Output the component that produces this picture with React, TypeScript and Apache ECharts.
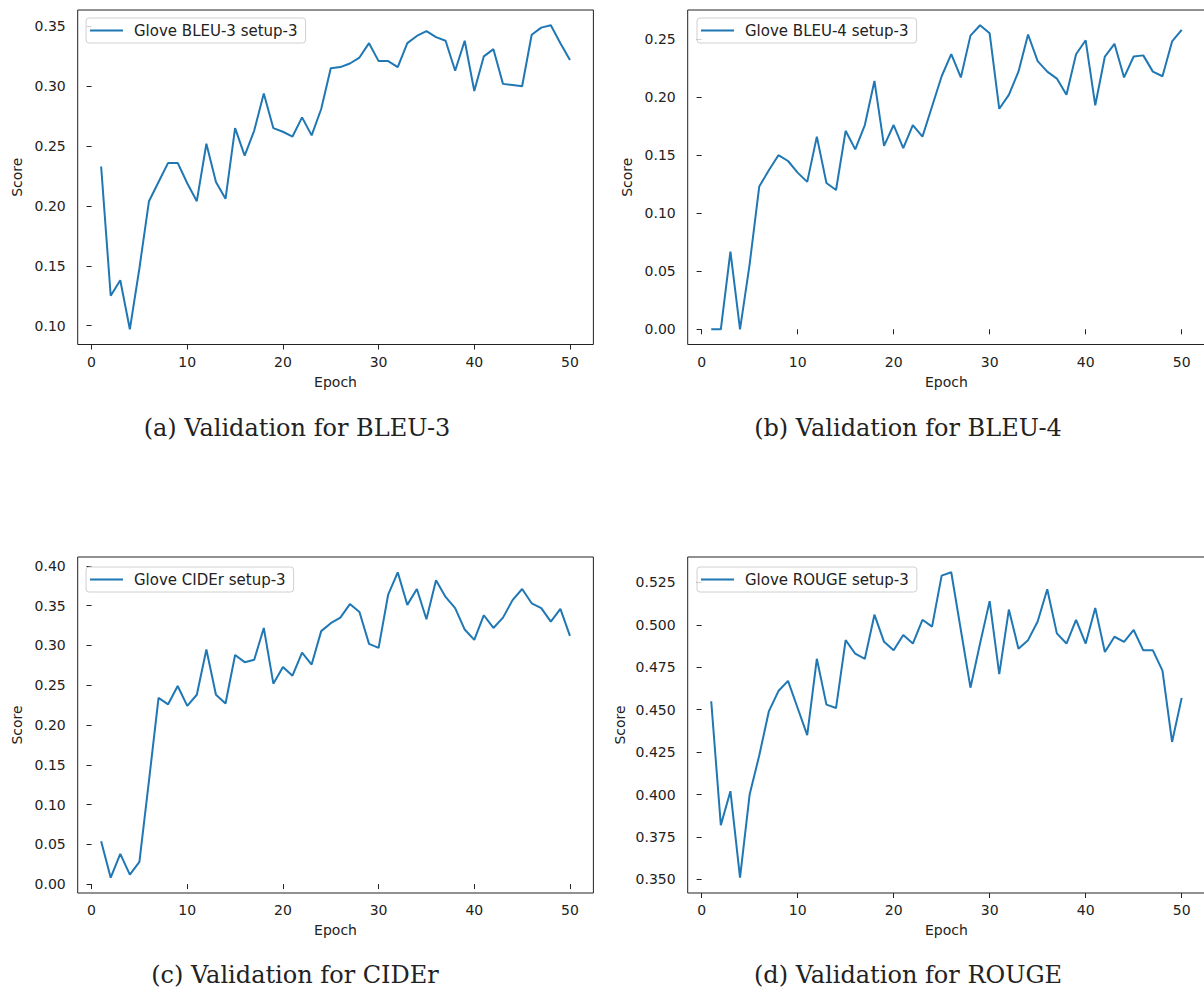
import React, { useEffect, useRef } from "react";
import * as echarts from "echarts";

const epochs = [
  1, 2, 3, 4, 5, 6, 7, 8, 9, 10, 11, 12, 13, 14, 15, 16, 17, 18, 19, 20, 21, 22, 23, 24, 25,
  26, 27, 28, 29, 30, 31, 32, 33, 34, 35, 36, 37, 38, 39, 40, 41, 42, 43, 44, 45, 46, 47, 48, 49, 50,
];

const bleu3 = [
  0.233, 0.125, 0.138, 0.097, 0.148, 0.204, 0.22, 0.236, 0.236, 0.219,
  0.204, 0.252, 0.22, 0.206, 0.265, 0.242, 0.263, 0.294, 0.265, 0.262,
  0.258, 0.274, 0.259, 0.281, 0.315, 0.316, 0.319, 0.324, 0.336, 0.321,
  0.321, 0.316, 0.336, 0.342, 0.346, 0.341, 0.338, 0.313, 0.338, 0.296,
  0.325, 0.331, 0.302, 0.301, 0.3, 0.343, 0.349, 0.351, 0.336, 0.322,
];

const bleu4 = [
  0.0, 0.0, 0.067, 0.0, 0.056, 0.123, 0.137, 0.15, 0.145, 0.135,
  0.127, 0.166, 0.126, 0.12, 0.171, 0.155, 0.176, 0.214, 0.158, 0.176,
  0.156, 0.176, 0.166, 0.192, 0.218, 0.237, 0.217, 0.253, 0.262, 0.255,
  0.19, 0.202, 0.222, 0.254, 0.231, 0.222, 0.216, 0.202, 0.237, 0.249,
  0.193, 0.235, 0.246, 0.217, 0.235, 0.236, 0.222, 0.218, 0.248, 0.258,
];

const cider = [
  0.054, 0.008, 0.038, 0.012, 0.028, 0.13, 0.234, 0.226, 0.249, 0.224,
  0.238, 0.295, 0.238, 0.227, 0.288, 0.279, 0.282, 0.322, 0.252, 0.273,
  0.262, 0.291, 0.276, 0.318, 0.328, 0.335, 0.352, 0.342, 0.302, 0.297,
  0.364, 0.392, 0.351, 0.371, 0.333, 0.382, 0.361, 0.347, 0.32, 0.307,
  0.338, 0.322, 0.335, 0.357, 0.371, 0.353, 0.347, 0.33, 0.346, 0.312,
];

const rouge = [
  0.455, 0.382, 0.402, 0.351, 0.4, 0.423, 0.449, 0.461, 0.467, 0.451,
  0.435, 0.48, 0.453, 0.451, 0.491, 0.483, 0.48, 0.506, 0.49, 0.485,
  0.494, 0.489, 0.503, 0.499, 0.529, 0.531, 0.497, 0.463, 0.489, 0.514,
  0.471, 0.509, 0.486, 0.491, 0.502, 0.521, 0.495, 0.489, 0.503, 0.489,
  0.51, 0.484, 0.493, 0.49, 0.497, 0.485, 0.485, 0.473, 0.431, 0.457,
];

const xTicks = [0, 10, 20, 30, 40, 50];
const yTicksA = [0.1, 0.15, 0.2, 0.25, 0.3, 0.35];
const yTicksB = [0.0, 0.05, 0.1, 0.15, 0.2, 0.25];
const yTicksC = [0.0, 0.05, 0.1, 0.15, 0.2, 0.25, 0.3, 0.35, 0.4];
const yTicksD = [0.35, 0.375, 0.4, 0.425, 0.45, 0.475, 0.5, 0.525];

const seriesNames = [
  "Glove BLEU-3 setup-3",
  "Glove BLEU-4 setup-3",
  "Glove CIDEr setup-3",
  "Glove ROUGE setup-3",
];
const captions = [
  "(a) Validation for BLEU-3",
  "(b) Validation for BLEU-4",
  "(c) Validation for CIDEr",
  "(d) Validation for ROUGE",
];

const LINE = "#1f77b4";
const INK = "#222";
const SANS = "DejaVu Sans";

function pad(vals: number[]) {
  const lo = Math.min(...vals);
  const hi = Math.max(...vals);
  const m = (hi - lo) * 0.05;
  return [lo - m, hi + m];
}

export default function App() {
  const ref = useRef<HTMLDivElement>(null);

  useEffect(() => {
    if (!ref.current) return;
    const chart = echarts.init(ref.current, null, { renderer: "svg" });

    const datasets = [bleu3, bleu4, cider, rouge];
    const yTicks = [yTicksA, yTicksB, yTicksC, yTicksD];
    const decimals = [2, 2, 2, 3];
    const grids = [
      { left: 77.7, top: 10, width: 515.7, height: 334.5 },
      { left: 687.7, top: 10, width: 517.5, height: 334.5 },
      { left: 77.7, top: 557, width: 515.7, height: 336 },
      { left: 687.7, top: 557, width: 517.5, height: 336 },
    ];
    const legendPos = [
      { left: 86, top: 18 },
      { left: 697, top: 18 },
      { left: 86, top: 567 },
      { left: 697, top: 567 },
    ];
    const yNameGap = [54, 54, 54, 61];
    const captionPos = [
      [297, 428],
      [908, 428],
      [295, 975],
      [908, 975],
    ];

    const option: any = {
      animation: false,
      backgroundColor: "#fff",
      grid: grids.map((g) => ({
        ...g,
        show: true,
        borderColor: INK,
        borderWidth: 1,
        backgroundColor: "transparent",
        containLabel: false,
        outerBoundsMode: "none",
      })),
      xAxis: grids.map((_, i) => ({
        type: "value",
        gridIndex: i,
        min: -1.45,
        max: 52.45,
        name: "Epoch",
        nameLocation: "middle",
        nameGap: 30,
        nameTextStyle: { fontFamily: SANS, fontSize: 14, color: INK },
        axisLine: { show: false },
        axisTick: {
          show: true,
          inside: false,
          length: 5,
          lineStyle: { color: INK },
          customValues: xTicks,
        },
        axisLabel: {
          show: true,
          margin: 10,
          fontFamily: SANS,
          fontSize: 14,
          color: INK,
          customValues: xTicks,
          formatter: (v: number) => String(Math.round(v)),
        },
        splitLine: { show: false },
      })),
      yAxis: datasets.map((d, i) => {
        const [mn, mx] = pad(d);
        return {
          type: "value",
          gridIndex: i,
          min: mn,
          max: mx,
          name: "Score",
          nameLocation: "middle",
          nameRotate: 90,
          nameGap: yNameGap[i],
          nameTextStyle: { fontFamily: SANS, fontSize: 14, color: INK },
          axisLine: { show: false },
          axisTick: {
            show: true,
            inside: false,
            length: 5,
            lineStyle: { color: INK },
            customValues: yTicks[i],
          },
          axisLabel: {
            show: true,
            margin: 12,
            fontFamily: SANS,
            fontSize: 14,
            color: INK,
            customValues: yTicks[i],
            formatter: (v: number) => v.toFixed(decimals[i]),
          },
          splitLine: { show: false },
        };
      }),
      legend: legendPos.map((p, i) => ({
        ...p,
        data: [seriesNames[i]],
        orient: "vertical",
        icon: "rect",
        itemWidth: 33,
        itemHeight: 2.2,
        padding: [5, 8, 5, 4],
        borderColor: "#d0d0d0",
        borderWidth: 1,
        borderRadius: 3,
        backgroundColor: "rgba(255,255,255,0.8)",
        selectedMode: false,
        textStyle: {
          fontFamily: SANS,
          fontSize: 15,
          color: INK,
          padding: [0, 0, 0, 6],
        },
      })),
      series: datasets.map((d, i) => ({
        type: "line",
        name: seriesNames[i],
        xAxisIndex: i,
        yAxisIndex: i,
        data: epochs.map((e, k) => [e, d[k]]),
        symbol: "none",
        showSymbol: false,
        color: LINE,
        lineStyle: { color: LINE, width: 2 },
        itemStyle: { color: LINE },
      })),
      graphic: captions.map((c, i) => ({
        type: "text",
        x: captionPos[i][0],
        y: captionPos[i][1],
        style: {
          text: c,
          fontFamily: "DejaVu Serif",
          fontSize: 24,
          fill: INK,
          textAlign: "center",
          textVerticalAlign: "middle",
        },
      })),
    };

    chart.setOption(option);
    return () => chart.dispose();
  }, []);

  return (
    <div
      ref={ref}
      style={{ position: "absolute", left: 0, top: 0, width: 1204, height: 999 }}
    />
  );
}
